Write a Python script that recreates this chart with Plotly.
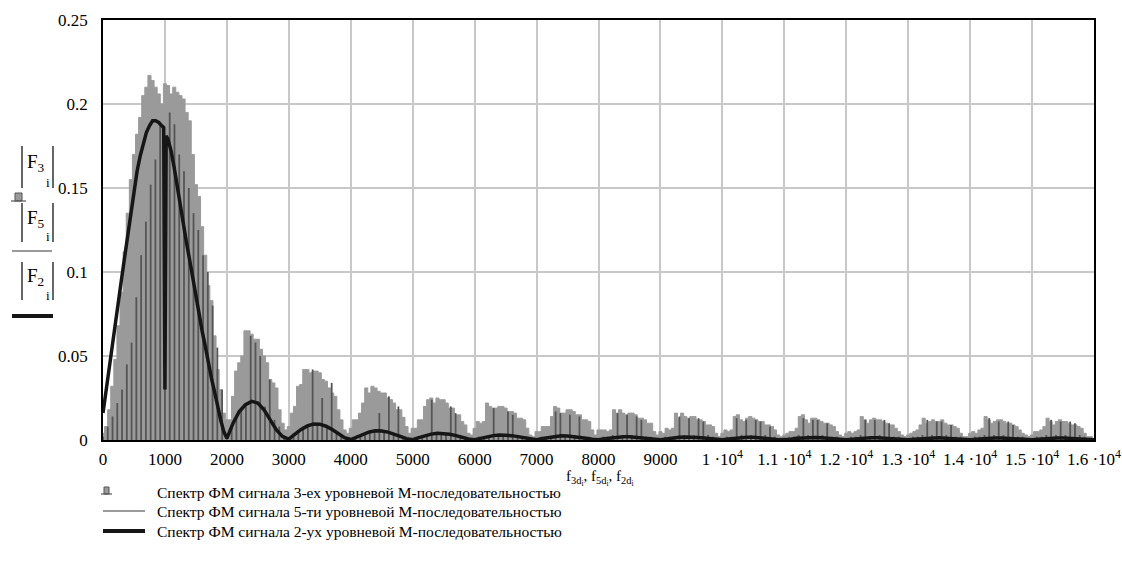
import numpy as np
import plotly.graph_objects as go

# ---------------- data ----------------
# |F5_i| : light grey trace, sampled every 50 Hz, 0 .. 16000 Hz
f5_step = 50
f5_vals = [
    0.004, 0.008, 0.018, 0.032, 0.048, 0.068, 0.088, 0.112, 0.135, 0.155, 0.17, 0.182, 0.192, 0.205, 0.21, 0.217, 0.214, 0.21, 0.206, 0.2,
    0.212, 0.211, 0.206, 0.21, 0.207, 0.205, 0.203, 0.195, 0.19, 0.17, 0.152, 0.145, 0.127, 0.11, 0.092, 0.083, 0.062, 0.042, 0.03, 0.016,
    0.012, 0.012, 0.026, 0.041, 0.046, 0.05, 0.065, 0.065, 0.063, 0.06, 0.06, 0.054, 0.05, 0.046, 0.036, 0.034, 0.031, 0.018, 0.01, 0.006,
    0.008, 0.016, 0.02, 0.032, 0.033, 0.042, 0.042, 0.04, 0.041, 0.041, 0.04, 0.036, 0.035, 0.031, 0.028, 0.026, 0.018, 0.012, 0.006, 0.004,
    0.007, 0.012, 0.012, 0.016, 0.022, 0.031, 0.028, 0.032, 0.031, 0.029, 0.028, 0.028, 0.025, 0.024, 0.022, 0.018, 0.018, 0.0135, 0.008, 0.004,
    0.007, 0.007, 0.012, 0.012, 0.02, 0.024, 0.025, 0.022, 0.025, 0.024, 0.024, 0.022, 0.019, 0.019, 0.015, 0.015, 0.011, 0.009, 0.004, 0.003,
    0.007, 0.011, 0.01, 0.011, 0.022, 0.02, 0.019, 0.019, 0.02, 0.02, 0.019, 0.017, 0.017, 0.016, 0.013, 0.013, 0.012, 0.007, 0.003, 0.002,
    0.005, 0.005, 0.008, 0.008, 0.008, 0.014, 0.02, 0.019, 0.016, 0.016, 0.018, 0.018, 0.017, 0.015, 0.015, 0.012, 0.012, 0.011, 0.006, 0.003,
    0.006, 0.006, 0.006, 0.005, 0.006, 0.018, 0.016, 0.018, 0.016, 0.015, 0.016, 0.016, 0.015, 0.013, 0.013, 0.012, 0.01, 0.01, 0.005, 0.003,
    0.005, 0.004, 0.007, 0.006, 0.007, 0.016, 0.013, 0.016, 0.014, 0.013, 0.014, 0.014, 0.012, 0.012, 0.011, 0.009, 0.009, 0.008, 0.004, 0.002,
    0.004, 0.006, 0.005, 0.006, 0.014, 0.015, 0.012, 0.011, 0.013, 0.014, 0.013, 0.012, 0.011, 0.011, 0.009, 0.009, 0.008, 0.006, 0.003, 0.002,
    0.003, 0.004, 0.005, 0.005, 0.007, 0.014, 0.015, 0.012, 0.01, 0.013, 0.013, 0.012, 0.011, 0.01, 0.01, 0.009, 0.008, 0.005, 0.003, 0.002,
    0.004, 0.005, 0.004, 0.005, 0.006, 0.014, 0.012, 0.01, 0.012, 0.013, 0.012, 0.012, 0.011, 0.01, 0.009, 0.009, 0.007, 0.005, 0.003, 0.002,
    0.003, 0.004, 0.005, 0.006, 0.009, 0.013, 0.01, 0.011, 0.012, 0.011, 0.011, 0.012, 0.01, 0.009, 0.009, 0.008, 0.007, 0.004, 0.002, 0.002,
    0.004, 0.005, 0.004, 0.006, 0.007, 0.014, 0.012, 0.01, 0.011, 0.012, 0.012, 0.011, 0.01, 0.01, 0.009, 0.008, 0.006, 0.004, 0.003, 0.002,
    0.003, 0.005, 0.005, 0.006, 0.008, 0.013, 0.011, 0.009, 0.011, 0.012, 0.011, 0.011, 0.01, 0.009, 0.009, 0.008, 0.007, 0.004, 0.002, 0.002,
    0.001,
]

# |F3_i| : dark grey bars, one every 1000/13 Hz, 0 .. 16000 Hz
f3_step = 1000 / 13
f3_vals = [
    0.002, 0.008, 0.014, 0.022, 0.03, 0.045, 0.058, 0.085, 0.11, 0.13, 0.152, 0.167, 0.188,
    0.18, 0.195, 0.188, 0.17, 0.16, 0.15, 0.135, 0.125, 0.11, 0.1, 0.08, 0.055, 0.03,
    0.002, 0.008, 0.014, 0.018, 0.02, 0.062, 0.058, 0.05, 0.02, 0.036, 0.012, 0.008, 0.003,
    0.001, 0.004, 0.006, 0.008, 0.009, 0.042, 0.009, 0.025, 0.008, 0.034, 0.005, 0.003, 0.001,
    0.001, 0.002, 0.003, 0.004, 0.005, 0.005, 0.016, 0.005, 0.026, 0.004, 0.02, 0.002, 0.001,
    0.001, 0.002, 0.003, 0.003, 0.024, 0.004, 0.004, 0.004, 0.02, 0.016, 0.003, 0.002, 0.001,
    0.001, 0.002, 0.002, 0.003, 0.019, 0.003, 0.003, 0.017, 0.015, 0.003, 0.002, 0.002, 0.001,
    0.001, 0.002, 0.002, 0.002, 0.017, 0.016, 0.003, 0.015, 0.003, 0.014, 0.002, 0.002, 0.001,
    0.001, 0.002, 0.002, 0.003, 0.016, 0.003, 0.015, 0.003, 0.014, 0.012, 0.002, 0.002, 0.001,
    0.001, 0.002, 0.002, 0.002, 0.014, 0.003, 0.013, 0.003, 0.013, 0.011, 0.003, 0.002, 0.001,
    0.001, 0.002, 0.002, 0.013, 0.003, 0.012, 0.003, 0.012, 0.011, 0.003, 0.008, 0.002, 0.001,
    0.001, 0.002, 0.002, 0.003, 0.013, 0.003, 0.012, 0.012, 0.003, 0.01, 0.002, 0.002, 0.001,
    0.001, 0.002, 0.002, 0.003, 0.012, 0.002, 0.012, 0.003, 0.012, 0.01, 0.002, 0.002, 0.001,
    0.001, 0.002, 0.002, 0.003, 0.012, 0.003, 0.011, 0.011, 0.003, 0.009, 0.002, 0.002, 0.001,
    0.001, 0.002, 0.002, 0.003, 0.013, 0.003, 0.011, 0.003, 0.011, 0.009, 0.002, 0.002, 0.001,
    0.001, 0.002, 0.002, 0.003, 0.012, 0.003, 0.011, 0.003, 0.011, 0.01, 0.003, 0.002, 0.001,
    0.001,
]

# |F2_i| : black curve; main lobe read at explicit frequencies
f2_main_freq = [0, 50, 100, 150, 200, 250, 300, 350, 400, 450, 500, 550, 600, 650, 700, 750, 800, 850, 900, 950,
                980, 1000, 1020, 1050, 1100, 1150, 1200, 1250, 1300, 1350, 1400, 1450, 1500, 1550, 1600, 1650,
                1700, 1750, 1800, 1850, 1900, 1950]
f2_main_vals = [0.016, 0.03, 0.042, 0.055, 0.07, 0.083, 0.096, 0.109, 0.122, 0.137, 0.149, 0.16, 0.169, 0.177, 0.183, 0.187, 0.19, 0.19, 0.189, 0.187,
                0.186, 0.03, 0.181, 0.179, 0.172, 0.162, 0.15, 0.139, 0.128, 0.117, 0.107, 0.096, 0.086, 0.075, 0.065, 0.056,
                0.046, 0.037, 0.029, 0.02, 0.012, 0.005]
# side lobes, every 100 Hz from 2000 to 16000 Hz
f2_side_start = 2000
f2_side_step = 100
f2_side_vals = [
    0.001, 0.010, 0.017, 0.021, 0.023, 0.022, 0.018, 0.012, 0.006, 0.002,
    0.0005, 0.0035, 0.0063, 0.0084, 0.0095, 0.0094, 0.0082, 0.0062, 0.0038, 0.0014,
    0.0003, 0.0019, 0.0036, 0.0048, 0.0055, 0.0054, 0.0047, 0.0036, 0.0022, 0.0008,
    0.0002, 0.0014, 0.0026, 0.0035, 0.004, 0.0039, 0.0034, 0.0026, 0.0016, 0.0006,
    0.0002, 0.0011, 0.002, 0.0026, 0.003, 0.0029, 0.0026, 0.002, 0.0012, 0.0005,
    0.0001, 0.0009, 0.0016, 0.0022, 0.0025, 0.0024, 0.0021, 0.0016, 0.001, 0.0004,
    0.0001, 0.0007, 0.0013, 0.0018, 0.002, 0.002, 0.0017, 0.0013, 0.0008, 0.0003,
    0.0001, 0.0006, 0.0012, 0.0016, 0.0018, 0.0018, 0.0015, 0.0012, 0.0007, 0.0003,
    0.0001, 0.0006, 0.001, 0.0014, 0.0016, 0.0016, 0.0014, 0.001, 0.0006, 0.0002,
    0.0001, 0.0005, 0.001, 0.0013, 0.0015, 0.0015, 0.0013, 0.001, 0.0006, 0.0002,
    0.0001, 0.0005, 0.0009, 0.0012, 0.0014, 0.0014, 0.0012, 0.0009, 0.0006, 0.0002,
    0.0001, 0.0005, 0.0008, 0.0011, 0.0013, 0.0013, 0.0011, 0.0008, 0.0005, 0.0002,
    0.0001, 0.0004, 0.0008, 0.0011, 0.0012, 0.0012, 0.001, 0.0008, 0.0005, 0.0002,
    0.0001, 0.0004, 0.0008, 0.0011, 0.0012, 0.0012, 0.001, 0.0008, 0.0005, 0.0002,
    0.0001,
]

x_tickvals = list(range(0, 16001, 1000))
x_ticktext = ["0", "1000", "2000", "3000", "4000", "5000", "6000", "7000", "8000", "9000",
              "1 ·10<sup>4</sup>", "1.1 ·10<sup>4</sup>", "1.2 ·10<sup>4</sup>", "1.3 ·10<sup>4</sup>",
              "1.4 ·10<sup>4</sup>", "1.5 ·10<sup>4</sup>", "1.6 ·10<sup>4</sup>"]
y_tickvals = [0, 0.05, 0.1, 0.15, 0.2, 0.25]
y_ticktext = ["0", "0.05", "0.1", "0.15", "0.2", "0.25"]

legend_labels = [
    "Спектр ФМ сигнала 3-ех уровневой М-последовательностью",
    "Спектр ФМ сигнала 5-ти уровневой М-последовательностью",
    "Спектр ФМ сигнала 2-ух уровневой М-последовательностью",
]

# ---------------- styling ----------------
W, H = 1122, 581
L, R, T, B = 103, 1094, 20, 440
FONT = "Liberation Serif"
C_LIGHT = "#9a9a9a"
C_DARK = "#555555"
C_BLACK = "#161616"


def px(x):
    return (x - L) / (R - L)


def py(y):
    return (B - y) / (B - T)


f5_x = np.arange(len(f5_vals)) * f5_step
f3_x = np.arange(len(f3_vals)) * f3_step
# F3 drawn as thin bars (stems): (x, x, gap) / (0, value, gap)
f3_sx, f3_sy = [], []
for xv, yv in zip(f3_x, f3_vals):
    f3_sx += [xv, xv, None]
    f3_sy += [0, yv, None]
f2_x = list(f2_main_freq) + list(f2_side_start + np.arange(len(f2_side_vals)) * f2_side_step)
f2_y = list(f2_main_vals) + list(f2_side_vals)

fig = go.Figure()
fig.add_trace(go.Scatter(x=f5_x, y=f5_vals, mode="lines", line=dict(color=C_LIGHT, width=1, shape="hvh"),
                         fill="tozeroy", fillcolor=C_LIGHT, name=legend_labels[1], showlegend=False))
fig.add_trace(go.Scatter(x=f3_sx, y=f3_sy, mode="lines", line=dict(color=C_DARK, width=1.8),
                         connectgaps=False, name=legend_labels[0], showlegend=False))
fig.add_trace(go.Scatter(x=f2_x, y=f2_y, mode="lines", line=dict(color=C_BLACK, width=3.5),
                         name=legend_labels[2], showlegend=False))

shapes = []
annotations = []

# y-axis title block (Mathcad style)
blocks = [("3", 146, 188), ("5", 203, 242), ("2", 262, 300)]
for sub, y0, y1 in blocks:
    for xx in (22, 53):
        shapes.append(dict(type="line", xref="paper", yref="paper", x0=px(xx), x1=px(xx), y0=py(y0), y1=py(y1),
                           line=dict(color="#000", width=1.2)))
    annotations.append(dict(xref="paper", yref="paper", x=px(25), y=py((y0 + y1) / 2 - 4), xanchor="left", yanchor="middle",
                            text="F<sub>" + sub + "</sub>", showarrow=False, font=dict(family=FONT, size=19, color="#000")))
    annotations.append(dict(xref="paper", yref="paper", x=px(44), y=py(y1 - 5), xanchor="left", yanchor="middle",
                            text="i", showarrow=False, font=dict(family=FONT, size=13, color="#000")))

# symbols in y title
shapes.append(dict(type="rect", xref="paper", yref="paper", x0=px(15), x1=px(22), y0=py(201), y1=py(193),
                   fillcolor=C_LIGHT, line=dict(color=C_DARK, width=1)))
shapes.append(dict(type="line", xref="paper", yref="paper", x0=px(11), x1=px(26), y0=py(201), y1=py(201),
                   line=dict(color=C_DARK, width=1.2)))
shapes.append(dict(type="line", xref="paper", yref="paper", x0=px(12), x1=px(52), y0=py(251), y1=py(251),
                   line=dict(color=C_LIGHT, width=2)))
shapes.append(dict(type="line", xref="paper", yref="paper", x0=px(12), x1=px(53), y0=py(316), y1=py(316),
                   line=dict(color=C_BLACK, width=4)))

# x-axis title
annotations.append(dict(xref="paper", yref="paper", x=px(600), y=py(478), xanchor="center", yanchor="middle",
                        text="f<sub>3d<sub>i</sub></sub>, f<sub>5d<sub>i</sub></sub>, f<sub>2d<sub>i</sub></sub>",
                        showarrow=False, font=dict(family=FONT, size=15, color="#000")))

# legend (bottom left)
rows_y = [492, 511, 531]
shapes.append(dict(type="rect", xref="paper", yref="paper", x0=px(104), x1=px(109), y0=py(494), y1=py(487),
                   fillcolor=C_LIGHT, line=dict(color=C_DARK, width=1)))
shapes.append(dict(type="line", xref="paper", yref="paper", x0=px(101), x1=px(112), y0=py(494), y1=py(494),
                   line=dict(color=C_DARK, width=1.2)))
shapes.append(dict(type="line", xref="paper", yref="paper", x0=px(103), x1=px(145), y0=py(rows_y[1]), y1=py(rows_y[1]),
                   line=dict(color=C_LIGHT, width=2)))
shapes.append(dict(type="line", xref="paper", yref="paper", x0=px(103), x1=px(145), y0=py(rows_y[2]), y1=py(rows_y[2]),
                   line=dict(color=C_BLACK, width=4)))
for lab, yy in zip(legend_labels, rows_y):
    annotations.append(dict(xref="paper", yref="paper", x=px(155), y=py(yy), xanchor="left", yanchor="middle",
                            text=lab, showarrow=False, font=dict(family=FONT, size=15.5, color="#000")))

fig.update_layout(
    width=W, height=H,
    margin=dict(l=L, r=W - R, t=T, b=H - B, pad=0),
    paper_bgcolor="white", plot_bgcolor="white",
    showlegend=False,
    font=dict(family=FONT, size=17, color="#000"),
    shapes=shapes, annotations=annotations,
    xaxis=dict(range=[0, 16000], tickmode="array", tickvals=x_tickvals, ticktext=x_ticktext,
               showgrid=True, gridcolor="#c8c8c8", gridwidth=1.5, zeroline=False,
               showline=True, linecolor="#000", linewidth=1.5, mirror=True, ticks="",
               tickfont=dict(family=FONT, size=17, color="#000"), ticklabelstandoff=3, automargin=False),
    yaxis=dict(range=[0, 0.25], tickmode="array", tickvals=y_tickvals, ticktext=y_ticktext,
               showgrid=True, gridcolor="#c8c8c8", gridwidth=1.5, zeroline=False,
               showline=True, linecolor="#000", linewidth=1.5, mirror=True, ticks="",
               tickfont=dict(family=FONT, size=17, color="#000"), ticklabelstandoff=10, automargin=False),
)

fig.write_html("out.html")
